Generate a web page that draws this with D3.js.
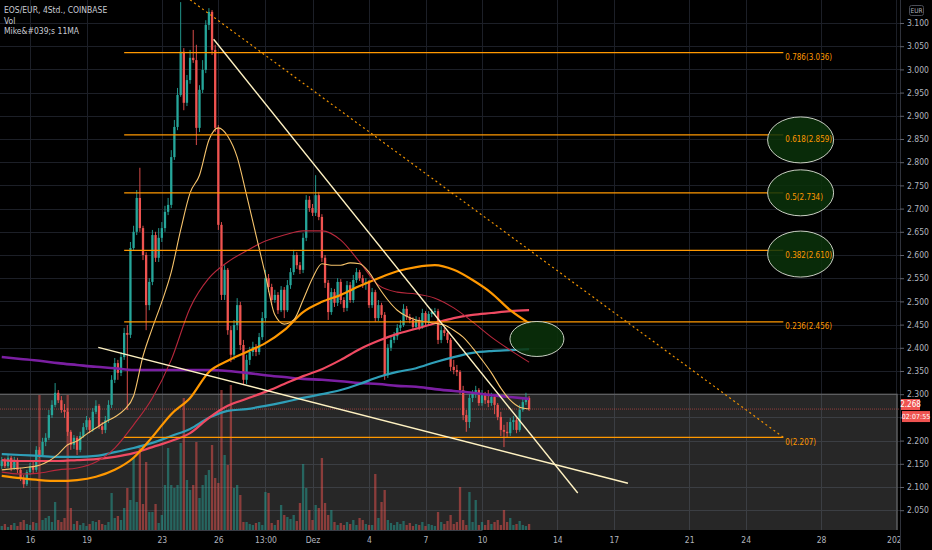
<!DOCTYPE html>
<html>
<head>
<meta charset="utf-8">
<script src="https://cdn.jsdelivr.net/npm/d3@7"></script>
<style>
html, body { margin: 0; padding: 0; background: #000; }
svg { display: block; font-family: "Liberation Sans Narrow", "DejaVu Sans Condensed", "Liberation Sans", sans-serif; }
</style>
</head>
<body>
<div id="chart-area"></div>
<script>
const WIDTH = 932, HEIGHT = 550;
const PLOT_RIGHT = 900, PLOT_BOTTOM = 530;
const HOUR = 3600 * 1000;

// 4h candles, first one opens 14 Nov 2020 12:00
const firstCandle = Date.UTC(2020, 10, 14, 12);
const firstOpen = 2.145;

const closes = [
  2.158, 2.145, 2.163, 2.141, 2.158, 2.137, 2.119, 2.106, 2.132, 2.145,
  2.137, 2.180, 2.169, 2.197, 2.206, 2.255, 2.277, 2.303, 2.287, 2.266,
  2.262, 2.219, 2.191, 2.206, 2.180, 2.210, 2.229, 2.244, 2.223, 2.262,
  2.275, 2.231, 2.223, 2.244, 2.277, 2.331, 2.367, 2.346, 2.380, 2.432,
  2.428, 2.615, 2.650, 2.723, 2.658, 2.600, 2.492, 2.542, 2.643, 2.594,
  2.637, 2.658, 2.693, 2.708, 2.811, 2.876, 2.945, 3.038, 2.928, 2.977,
  3.025, 3.020, 2.874, 2.956, 2.999, 3.096, 3.124, 3.042, 2.874, 2.665,
  2.514, 2.568, 2.438, 2.385, 2.449, 2.492, 2.406, 2.331, 2.374, 2.391,
  2.402, 2.391, 2.423, 2.464, 2.550, 2.531, 2.503, 2.514, 2.481, 2.525,
  2.481, 2.535, 2.563, 2.600, 2.578, 2.568, 2.637, 2.719, 2.701, 2.691,
  2.729, 2.682, 2.594, 2.540, 2.477, 2.520, 2.497, 2.542, 2.503, 2.486,
  2.535, 2.503, 2.546, 2.563, 2.550, 2.540, 2.542, 2.492, 2.520, 2.464,
  2.492, 2.471, 2.341, 2.400, 2.417, 2.425, 2.443, 2.449, 2.484, 2.466,
  2.460, 2.445, 2.460, 2.445, 2.475, 2.456, 2.473, 2.477, 2.479, 2.417,
  2.438, 2.432, 2.417, 2.359, 2.352, 2.348, 2.309, 2.255, 2.240, 2.292,
  2.303, 2.309, 2.281, 2.298, 2.287, 2.281, 2.294, 2.277, 2.251, 2.223,
  2.219, 2.216, 2.240, 2.244, 2.223, 2.266, 2.283, 2.292, 2.268
];
const highs = [
  2.165, 2.163, 2.169, 2.167, 2.165, 2.163, 2.141, 2.126, 2.137, 2.152,
  2.154, 2.188, 2.186, 2.206, 2.216, 2.266, 2.287, 2.324, 2.309, 2.296,
  2.279, 2.270, 2.223, 2.212, 2.210, 2.219, 2.238, 2.253, 2.249, 2.270,
  2.287, 2.279, 2.240, 2.253, 2.287, 2.341, 2.378, 2.374, 2.391, 2.443,
  2.449, 2.628, 2.663, 2.740, 2.788, 2.663, 2.606, 2.550, 2.654, 2.650,
  2.658, 2.671, 2.706, 2.723, 2.826, 2.891, 2.960, 3.145, 3.046, 2.988,
  3.042, 3.085, 3.053, 2.966, 3.020, 3.106, 3.132, 3.128, 3.053, 2.880,
  2.671, 2.578, 2.572, 2.447, 2.460, 2.507, 2.499, 2.417, 2.385, 2.402,
  2.413, 2.408, 2.432, 2.477, 2.568, 2.559, 2.538, 2.525, 2.520, 2.533,
  2.531, 2.546, 2.572, 2.611, 2.606, 2.585, 2.647, 2.729, 2.727, 2.710,
  2.772, 2.736, 2.688, 2.600, 2.546, 2.529, 2.527, 2.550, 2.548, 2.509,
  2.544, 2.542, 2.557, 2.572, 2.568, 2.557, 2.550, 2.546, 2.529, 2.525,
  2.503, 2.497, 2.477, 2.408, 2.425, 2.434, 2.451, 2.460, 2.494, 2.490,
  2.473, 2.466, 2.468, 2.466, 2.484, 2.479, 2.479, 2.484, 2.486, 2.484,
  2.447, 2.443, 2.436, 2.421, 2.374, 2.363, 2.352, 2.318, 2.266, 2.300,
  2.309, 2.318, 2.313, 2.309, 2.305, 2.309, 2.303, 2.298, 2.281, 2.262,
  2.234, 2.240, 2.249, 2.253, 2.249, 2.277, 2.292, 2.303, 2.296
];
const lows = [
  2.139, 2.141, 2.141, 2.134, 2.137, 2.130, 2.113, 2.098, 2.102, 2.126,
  2.130, 2.132, 2.163, 2.165, 2.188, 2.201, 2.249, 2.272, 2.281, 2.260,
  2.249, 2.210, 2.180, 2.182, 2.169, 2.175, 2.206, 2.223, 2.216, 2.219,
  2.257, 2.225, 2.214, 2.216, 2.238, 2.270, 2.324, 2.331, 2.339, 2.374,
  2.266, 2.421, 2.611, 2.643, 2.650, 2.589, 2.438, 2.481, 2.535, 2.585,
  2.585, 2.628, 2.650, 2.686, 2.701, 2.805, 2.869, 2.941, 2.912, 2.921,
  2.969, 3.014, 2.837, 2.865, 2.949, 2.992, 3.085, 3.031, 2.865, 2.654,
  2.503, 2.503, 2.428, 2.369, 2.374, 2.438, 2.395, 2.320, 2.322, 2.363,
  2.382, 2.382, 2.385, 2.417, 2.456, 2.520, 2.492, 2.497, 2.473, 2.477,
  2.464, 2.477, 2.527, 2.557, 2.570, 2.559, 2.561, 2.630, 2.693, 2.684,
  2.684, 2.675, 2.585, 2.529, 2.460, 2.471, 2.488, 2.490, 2.494, 2.477,
  2.479, 2.497, 2.497, 2.540, 2.544, 2.529, 2.525, 2.486, 2.486, 2.456,
  2.458, 2.464, 2.331, 2.335, 2.393, 2.410, 2.417, 2.436, 2.445, 2.460,
  2.453, 2.438, 2.441, 2.438, 2.441, 2.449, 2.449, 2.466, 2.471, 2.408,
  2.410, 2.425, 2.410, 2.350, 2.343, 2.339, 2.300, 2.244, 2.219, 2.227,
  2.283, 2.292, 2.275, 2.275, 2.279, 2.272, 2.275, 2.257, 2.244, 2.210,
  2.186, 2.206, 2.210, 2.223, 2.216, 2.219, 2.262, 2.277, 2.264
];
// volume, thousand EOS per candle
const volumes = [
  4, 6, 3, 5, 7, 4, 8, 10, 6, 5,
  8, 7, 135, 10, 12, 14, 8, 28, 10, 8,
  12, 135, 22, 6, 9, 5, 7, 4, 6, 9,
  8, 10, 6, 5, 8, 37, 12, 14, 10, 22,
  42, 30, 73, 28, 82, 26, 68, 18, 18, 26,
  7, 15, 45, 82, 45, 42, 45, 87, 132, 50,
  40, 45, 88, 32, 45, 55, 60, 85, 52, 47,
  140, 75, 65, 145, 42, 45, 35, 8, 8, 6,
  5, 7, 8, 5, 38, 37, 7, 5, 10, 25,
  15, 13, 11, 15, 9, 27, 66, 42, 20, 10,
  25, 22, 72, 27, 15, 20, 8, 5, 7, 5,
  8, 6, 10, 5, 12, 10, 6, 5, 5, 56,
  12, 28, 40, 10, 7, 5, 8, 6, 9, 5,
  7, 4, 6, 5, 8, 4, 6, 5, 4, 18,
  8, 6, 9, 15, 6, 8, 43, 10, 5, 38,
  8, 30, 5, 8, 5, 10, 6, 8, 10, 5,
  20, 8, 12, 5, 6, 9, 5, 4, 6
];

// moving averages read once a day (every 6th candle)
const maPurple = [2.380, 2.376, 2.372, 2.367, 2.363, 2.359, 2.356, 2.352, 2.352, 2.352,
  2.352, 2.352, 2.350, 2.346, 2.341, 2.337, 2.333, 2.331, 2.328, 2.324,
  2.322, 2.318, 2.316, 2.311, 2.307, 2.303, 2.298, 2.294, 2.290];
const maTeal = [2.171, 2.169, 2.167, 2.165, 2.165, 2.167, 2.175, 2.184, 2.195, 2.210,
  2.225, 2.249, 2.264, 2.268, 2.275, 2.283, 2.292, 2.300, 2.309, 2.322,
  2.337, 2.348, 2.356, 2.369, 2.380, 2.389, 2.393, 2.395, 2.397];
const maPink = [2.158, 2.156, 2.156, 2.156, 2.158, 2.160, 2.165, 2.173, 2.186, 2.199,
  2.216, 2.249, 2.275, 2.290, 2.305, 2.322, 2.339, 2.354, 2.374, 2.397,
  2.415, 2.430, 2.441, 2.453, 2.464, 2.471, 2.475, 2.479, 2.481];
const maOrange = [2.124, 2.119, 2.115, 2.113, 2.115, 2.122, 2.137, 2.163, 2.208, 2.257,
  2.292, 2.348, 2.372, 2.391, 2.410, 2.438, 2.477, 2.499, 2.514, 2.533,
  2.550, 2.565, 2.574, 2.578, 2.568, 2.546, 2.518, 2.481, 2.453];
const maCrimson = [2.132, 2.128, 2.130, 2.137, 2.141, 2.154, 2.184, 2.234, 2.292, 2.374,
  2.486, 2.550, 2.585, 2.609, 2.630, 2.643, 2.652, 2.652, 2.632, 2.585,
  2.535, 2.520, 2.516, 2.507, 2.486, 2.456, 2.423, 2.395, 2.369];
// fast MA read twice a day (every 3rd candle)
const maYellow = [2.137, 2.139, 2.141, 2.143, 2.147, 2.156, 2.171, 2.191, 2.199, 2.214,
  2.227, 2.240, 2.251, 2.266, 2.296, 2.382, 2.443, 2.499, 2.563, 2.654,
  2.734, 2.772, 2.848, 2.874, 2.856, 2.811, 2.729, 2.643, 2.557, 2.471,
  2.451, 2.460, 2.503, 2.550, 2.581, 2.578, 2.578, 2.583, 2.581, 2.563,
  2.531, 2.503, 2.481, 2.468, 2.460, 2.456, 2.453, 2.449, 2.438, 2.423,
  2.400, 2.374, 2.346, 2.313, 2.287, 2.272, 2.268];

// fibonacci retracement
const fibRatios = ["0", "0.236", "0.382", "0.5", "0.618", "0.786"];
const fibPrices = [2.207, 2.456, 2.610, 2.734, 2.859, 3.036];
const fibStart = Date.UTC(2020, 10, 21);
const fibEnd = Date.UTC(2020, 11, 26);

// drawings: [time, price]
const upperTrend = [[Date.UTC(2020, 10, 25, 18), 3.065], [Date.UTC(2020, 11, 15, 2), 2.087]];
const lowerTrend = [[Date.UTC(2020, 10, 19, 15), 2.401], [Date.UTC(2020, 11, 17, 18), 2.108]];
const dashedTrend = [[Date.UTC(2020, 10, 24, 12), 3.150], [Date.UTC(2020, 11, 26), 2.207]];
const ellipseTimes = [Date.UTC(2020, 11, 26, 22), Date.UTC(2020, 11, 26, 22), Date.UTC(2020, 11, 26, 22), Date.UTC(2020, 11, 12, 22)];
const ellipsePrices = [2.848, 2.734, 2.602, 2.419];
const boxTop = 2.30;
const boxRight = Date.UTC(2021, 0, 1, 1);

const lastPrice = 2.268;
const countdown = "02:07:55";

const priceTicks = [2.05, 2.10, 2.15, 2.20, 2.25, 2.30, 2.35, 2.40, 2.45, 2.50, 2.55,
  2.60, 2.65, 2.70, 2.75, 2.80, 2.85, 2.90, 2.95, 3.00, 3.05, 3.10];
const timeTickDates = [
  Date.UTC(2020, 10, 16), Date.UTC(2020, 10, 19), Date.UTC(2020, 10, 23), Date.UTC(2020, 10, 26),
  Date.UTC(2020, 10, 28, 12), Date.UTC(2020, 11, 1), Date.UTC(2020, 11, 4), Date.UTC(2020, 11, 7),
  Date.UTC(2020, 11, 10), Date.UTC(2020, 11, 14), Date.UTC(2020, 11, 17), Date.UTC(2020, 11, 21),
  Date.UTC(2020, 11, 24), Date.UTC(2020, 11, 28), Date.UTC(2021, 0, 1)
].map(d => new Date(d));
const timeTickLabels = ["16", "19", "23", "26", "13:00", "Dez", "4", "7", "10", "14", "17", "21", "24", "28", "2021"];

const headerLines = ["EOS/EUR, 4Std., COINBASE", "Vol", "Mike&#039;s 11MA"];

const UP = "#26a69a", DOWN = "#ef5350";
const AXIS_FONT = "'Liberation Sans Narrow','DejaVu Sans Condensed',sans-serif";

const svg = d3.select("#chart-area").append("svg")
  .attr("width", WIDTH)
  .attr("height", HEIGHT);

svg.append("rect").attr("width", WIDTH).attr("height", HEIGHT).attr("fill", "#000");

const defs = svg.append("defs");
defs.append("clipPath").attr("id", "plot-clip")
  .append("rect").attr("width", PLOT_RIGHT).attr("height", PLOT_BOTTOM);
defs.append("clipPath").attr("id", "time-clip")
  .append("rect").attr("width", PLOT_RIGHT).attr("height", HEIGHT);

// scales
const x = d3.scaleUtc()
  .domain([new Date(Date.UTC(2020, 10, 16)), new Date(Date.UTC(2020, 11, 10))])
  .range([30, 482]);
const y = d3.scaleLinear()
  .domain([2.05, 3.10])
  .range([510.2, 23]);
const yVol = d3.scaleLinear()
  .domain([0, 150])
  .range([PLOT_BOTTOM, 380]);

const candles = closes.map((c, i) => ({
  date: new Date(firstCandle + i * 4 * HOUR),
  open: i === 0 ? firstOpen : closes[i - 1],
  high: highs[i],
  low: lows[i],
  close: c,
  volume: volumes[i]
}));

const plot = svg.append("g").attr("clip-path", "url(#plot-clip)");

// grid
plot.append("g").selectAll("line").data(priceTicks).join("line")
  .attr("x1", 0).attr("x2", PLOT_RIGHT)
  .attr("y1", d => Math.round(y(d)) + 0.5).attr("y2", d => Math.round(y(d)) + 0.5)
  .attr("stroke", "#1c1f27");
plot.append("g").selectAll("line").data(timeTickDates).join("line")
  .attr("x1", d => Math.round(x(d)) + 0.5).attr("x2", d => Math.round(x(d)) + 0.5)
  .attr("y1", 0).attr("y2", PLOT_BOTTOM)
  .attr("stroke", "#1c1f27");

// grey box drawing behind the volume
plot.append("rect")
  .attr("x", -2)
  .attr("y", y(boxTop))
  .attr("width", x(new Date(boxRight)) + 2)
  .attr("height", PLOT_BOTTOM - y(boxTop) + 2)
  .attr("fill", "rgba(150,150,150,0.26)")
  .attr("stroke", "#707070")
  .attr("stroke-width", 1);

// volume
const barW = 2.3;
plot.append("g").selectAll("rect").data(candles).join("rect")
  .attr("x", d => x(d.date) - barW / 2)
  .attr("y", d => yVol(d.volume))
  .attr("width", barW)
  .attr("height", d => PLOT_BOTTOM - yVol(d.volume))
  .attr("fill", d => d.close >= d.open ? UP : DOWN)
  .attr("opacity", 0.5);

// current price line
plot.append("line")
  .attr("x1", 0).attr("x2", PLOT_RIGHT)
  .attr("y1", y(lastPrice)).attr("y2", y(lastPrice))
  .attr("stroke", DOWN).attr("stroke-opacity", 0.55)
  .attr("stroke-dasharray", "1,1");

// candles
const cg = plot.append("g").selectAll("g").data(candles).join("g");
cg.append("line")
  .attr("x1", d => x(d.date)).attr("x2", d => x(d.date))
  .attr("y1", d => y(d.high)).attr("y2", d => y(d.low))
  .attr("stroke", d => d.close >= d.open ? UP : DOWN)
  .attr("stroke-width", 0.9);
cg.append("rect")
  .attr("x", d => x(d.date) - barW / 2)
  .attr("y", d => y(Math.max(d.open, d.close)))
  .attr("width", barW)
  .attr("height", d => Math.max(1, Math.abs(y(d.open) - y(d.close))))
  .attr("fill", d => d.close >= d.open ? UP : DOWN);

// moving averages
const dailyDate = k => new Date(firstCandle + k * 24 * HOUR);
const halfDayDate = k => new Date(firstCandle + k * 12 * HOUR);
const maLine = dateOf => d3.line()
  .x((d, k) => x(dateOf(k)))
  .y(d => y(d))
  .curve(d3.curveMonotoneX);

const maSpecs = [
  { values: maPurple, color: "#7b1fa2", width: 2.6, dateOf: dailyDate },
  { values: maTeal, color: "#2f9fb8", width: 2.2, dateOf: dailyDate },
  { values: maPink, color: "#f04a62", width: 2.2, dateOf: dailyDate },
  { values: maOrange, color: "#ff9800", width: 2.2, dateOf: dailyDate },
  { values: maCrimson, color: "#b8283c", width: 1.1, dateOf: dailyDate },
  { values: maYellow, color: "#f7c46c", width: 1.1, dateOf: halfDayDate }
];
maSpecs.forEach(s => {
  plot.append("path")
    .datum(s.values)
    .attr("fill", "none")
    .attr("stroke", s.color)
    .attr("stroke-width", s.width)
    .attr("d", maLine(s.dateOf));
});

// fibonacci levels
const fib = plot.append("g");
fibPrices.forEach(p => {
  fib.append("line")
    .attr("x1", x(new Date(fibStart))).attr("x2", x(new Date(fibEnd)))
    .attr("y1", y(p)).attr("y2", y(p))
    .attr("stroke", "#ff9800").attr("stroke-width", 1.3);
});

// trend lines
const trendLine = d3.line().x(d => x(new Date(d[0]))).y(d => y(d[1]));
plot.append("path").datum(dashedTrend)
  .attr("d", trendLine).attr("fill", "none")
  .attr("stroke", "#f29400").attr("stroke-width", 1.2)
  .attr("stroke-dasharray", "2,3");
[upperTrend, lowerTrend].forEach(t => {
  plot.append("path").datum(t)
    .attr("d", trendLine).attr("fill", "none")
    .attr("stroke", "#fff2c2").attr("stroke-width", 1.4);
});

// ellipses
const ellipseRadii = [[33, 23], [33, 23], [33, 23], [27, 17.5]];
ellipseTimes.forEach((t, i) => {
  plot.append("ellipse")
    .attr("cx", x(new Date(t)))
    .attr("cy", y(ellipsePrices[i]))
    .attr("rx", ellipseRadii[i][0])
    .attr("ry", ellipseRadii[i][1])
    .attr("fill", "rgba(10,50,10,0.85)")
    .attr("stroke", "#c9cfc2")
    .attr("stroke-width", 1);
});

// fib labels, above the ellipses
const fibLabels = plot.append("g");
fibPrices.forEach((p, i) => {
  fibLabels.append("text")
    .attr("x", x(new Date(fibEnd)) + 2)
    .attr("y", y(p) + 7.5)
    .attr("fill", "#ff9800")
    .attr("font-size", "8px")
    .text(`${fibRatios[i]}(${p.toFixed(3)})`);
});

// price axis
const yAxis = svg.append("g")
  .attr("transform", `translate(${PLOT_RIGHT}, 0)`)
  .call(d3.axisRight(y).tickValues(priceTicks).tickFormat(d3.format(".3f")).tickSize(4).tickPadding(3));
yAxis.select(".domain").attr("stroke", "#2f323b").attr("d", `M0.5,0V${HEIGHT}`);
yAxis.selectAll(".tick line").attr("stroke", "#5d606b");
yAxis.selectAll(".tick text").attr("fill", "#b2b5be").attr("font-size", "8.5px")
  .attr("font-family", AXIS_FONT);
// the tick label under the price tag is hidden, as on the original
yAxis.selectAll(".tick").filter(d => Math.abs(d - lastPrice) < 0.03).select("text").remove();

// time axis
const xAxis = svg.append("g")
  .attr("clip-path", "url(#time-clip)")
  .append("g")
  .attr("transform", `translate(0, ${PLOT_BOTTOM})`)
  .call(d3.axisBottom(x).tickValues(timeTickDates).tickFormat((d, i) => timeTickLabels[i]).tickSize(0).tickPadding(7));
xAxis.select(".domain").attr("stroke", "#3a3d46");
xAxis.selectAll(".tick text").attr("fill", "#b2b5be").attr("font-size", "8.5px")
  .attr("font-family", AXIS_FONT);

// last price label and countdown
const tagY = y(lastPrice);
const tag = svg.append("g").attr("transform", `translate(${PLOT_RIGHT + 1}, ${tagY})`);
tag.append("rect").attr("x", 0).attr("y", -10).attr("width", 19).attr("height", 11).attr("fill", DOWN);
tag.append("text").attr("x", 9.5).attr("y", -1.8).attr("text-anchor", "middle")
  .attr("fill", "#fff").attr("font-size", "8px").attr("font-family", AXIS_FONT).text(lastPrice.toFixed(3));
tag.append("rect").attr("x", 1).attr("y", 2).attr("width", 28).attr("height", 11).attr("fill", DOWN);
tag.append("text").attr("x", 15).attr("y", 10.3).attr("text-anchor", "middle")
  .attr("fill", "#fff").attr("font-size", "7px").attr("font-family", AXIS_FONT).text(countdown);

// currency box
svg.append("rect").attr("x", 909.5).attr("y", 5.5).attr("width", 14).attr("height", 10).attr("rx", 2)
  .attr("fill", "#000").attr("stroke", "#4a4d56");
svg.append("text").attr("x", 916.5).attr("y", 13).attr("text-anchor", "middle")
  .attr("fill", "#b2b5be").attr("font-size", "6.5px").text("EUR");

// header
headerLines.forEach((t, i) => {
  svg.append("text")
    .attr("x", 4)
    .attr("y", 13 + i * 10.5)
    .attr("fill", "#c9ccd4")
    .attr("font-size", "8.5px")
    .text(t);
});
</script>
</body>
</html>
